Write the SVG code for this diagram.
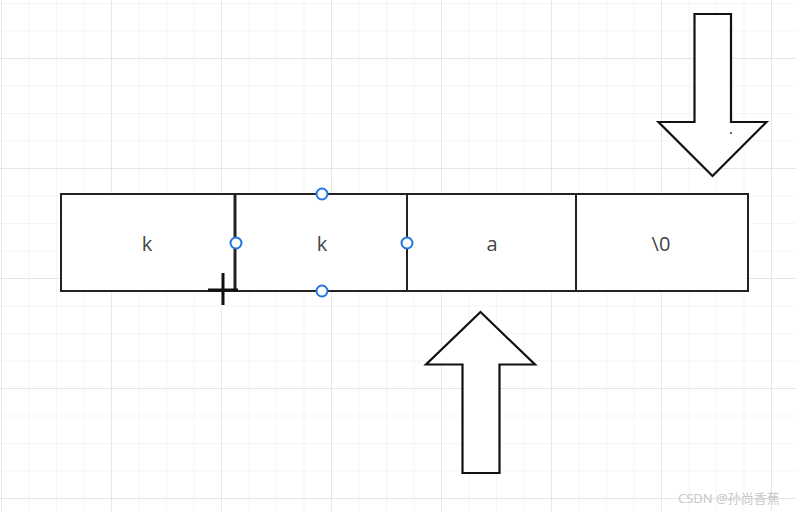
<svg xmlns="http://www.w3.org/2000/svg" width="796" height="511" viewBox="0 0 796 511">
<defs>
<style>
.cell{fill:#fff;stroke:#222;stroke-width:2}
.lbl{font-family:"Open Sans","Liberation Sans",sans-serif;font-size:20px;fill:#444;text-anchor:middle;dominant-baseline:central}
.arrow{fill:#fff;stroke:#111;stroke-width:2.2;stroke-linejoin:miter}
.handle{fill:#fff;stroke:#1f74e0;stroke-width:2}
.wm{font-family:"Noto Sans","Noto Sans CJK SC",sans-serif;font-size:13px;fill:#c8c8c8}
</style>
<pattern id="minor" x="1" y="3" width="27.5" height="27.5" patternUnits="userSpaceOnUse">
<path d="M0 0V27.5M0 0H27.5" fill="none" stroke="#ebebeb" stroke-width="1"/>
</pattern>
<pattern id="major" x="1" y="58" width="110" height="110" patternUnits="userSpaceOnUse">
<path d="M0 0V110M0 0H110" fill="none" stroke="#e0e0e0" stroke-width="1.3"/>
</pattern>
</defs>
<rect width="796" height="511" fill="#fff"/>
<rect width="796" height="511" fill="url(#minor)"/>
<rect width="796" height="511" fill="url(#major)"/>

<g id="cell0"><rect class="cell" x="61" y="194" width="174" height="97"/><text class="lbl" x="147" y="243">k</text></g>
<g id="cell1"><rect class="cell" x="235" y="194" width="172" height="97"/><text class="lbl" x="322" y="243">k</text></g>
<g id="cell2"><rect class="cell" x="407" y="194" width="169" height="97"/><text class="lbl" x="492" y="243">a</text></g>
<g id="cell3"><rect class="cell" x="576" y="194" width="172" height="97"/><text class="lbl" x="661" y="243">\0</text></g>
<line x1="235" y1="194" x2="235" y2="291" stroke="#222" stroke-width="3"/>

<g id="handles">
<circle class="handle" cx="322" cy="194" r="5.5"/>
<circle class="handle" cx="236" cy="243" r="5.5"/>
<circle class="handle" cx="407" cy="243" r="5.5"/>
<circle class="handle" cx="322" cy="291" r="5.5"/>
</g>

<g id="cursor" stroke="#111" stroke-width="3">
<line x1="208" y1="290" x2="238" y2="290"/>
<line x1="223" y1="273" x2="223" y2="305"/>
</g>

<g id="arrow-down"><polygon class="arrow" points="694.5,14 731,14 731,122 766.5,122 712.5,176 658.5,122 694.5,122"/>
<circle cx="731" cy="133" r="0.9" fill="#222"/></g>
<g id="arrow-up"><polygon class="arrow" points="480.5,312 535,364.5 499.5,364.5 499.5,473 462.5,473 462.5,364.5 426,364.5"/></g>

<g id="connectors"></g>

<text class="wm" x="678" y="503">CSDN @孙尚香蕉</text>
</svg>
